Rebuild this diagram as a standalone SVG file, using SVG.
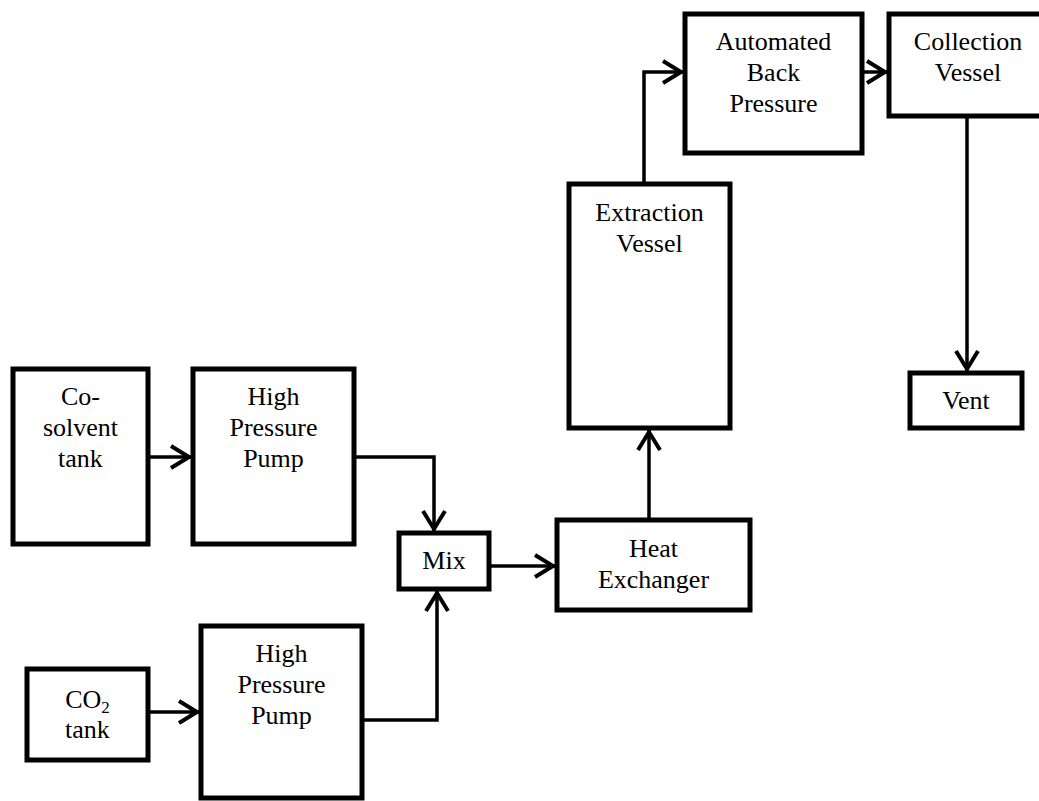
<svg xmlns="http://www.w3.org/2000/svg" width="1039" height="801" viewBox="0 0 1039 801">
<style>
.box{fill:#fff;stroke:#000;stroke-width:5}
.lbl{font-family:"Liberation Serif","Times New Roman",serif;font-size:26px;fill:#000;text-anchor:middle}
.con{fill:none;stroke:#000;stroke-width:3.5}
</style>
<defs>
<marker id="arr" markerUnits="userSpaceOnUse" markerWidth="26" markerHeight="28" viewBox="-24 -14 26 28" refX="0" refY="0" orient="auto">
<path d="M-20,-11 L-2,0 L-20,11" fill="none" stroke="#000" stroke-width="4"/>
</marker>
</defs>
<rect width="1039" height="801" fill="#fff"/>
<g id="cosolvent-tank"><rect class="box" x="13" y="369" width="135" height="175"/><text class="lbl" x="80.5" y="405">Co-</text><text class="lbl" x="80.5" y="436">solvent</text><text class="lbl" x="80.5" y="467">tank</text></g>
<g id="pump1"><rect class="box" x="193" y="369" width="161" height="175"/><text class="lbl" x="273.5" y="405">High</text><text class="lbl" x="273.5" y="436">Pressure</text><text class="lbl" x="273.5" y="467">Pump</text></g>
<g id="co2-tank"><rect class="box" x="27" y="669" width="121" height="91"/><text class="lbl" x="87.5" y="708">CO<tspan font-size="17" dy="5">2</tspan></text><text class="lbl" x="87.5" y="738">tank</text></g>
<g id="pump2"><rect class="box" x="201" y="626" width="161" height="172"/><text class="lbl" x="281.5" y="662">High</text><text class="lbl" x="281.5" y="693">Pressure</text><text class="lbl" x="281.5" y="724">Pump</text></g>
<g id="mix"><rect class="box" x="399" y="533" width="90" height="56"/><text class="lbl" x="444" y="569">Mix</text></g>
<g id="heat-exchanger"><rect class="box" x="557" y="520" width="193" height="90"/><text class="lbl" x="653.5" y="557">Heat</text><text class="lbl" x="653.5" y="588">Exchanger</text></g>
<g id="extraction-vessel"><rect class="box" x="569" y="184" width="161" height="244"/><text class="lbl" x="649.5" y="221">Extraction</text><text class="lbl" x="649.5" y="252">Vessel</text></g>
<g id="back-pressure"><rect class="box" x="685" y="14" width="177" height="139"/><text class="lbl" x="773.5" y="50">Automated</text><text class="lbl" x="773.5" y="81">Back</text><text class="lbl" x="773.5" y="112">Pressure</text></g>
<g id="collection-vessel"><rect class="box" x="889" y="14" width="158" height="102"/><text class="lbl" x="968" y="50">Collection</text><text class="lbl" x="968" y="81">Vessel</text></g>
<g id="vent"><rect class="box" x="910" y="373" width="112" height="55"/><text class="lbl" x="966" y="409">Vent</text></g>
<g id="connectors">
<path class="con" d="M150,457 H191" marker-end="url(#arr)"/>
<path class="con" d="M356,457 H434 V531" marker-end="url(#arr)"/>
<path class="con" d="M150,712 H199" marker-end="url(#arr)"/>
<path class="con" d="M364,720 H437 V591" marker-end="url(#arr)"/>
<path class="con" d="M491,566 H555" marker-end="url(#arr)"/>
<path class="con" d="M649,518 V430" marker-end="url(#arr)"/>
<path class="con" d="M644,182 V72 H683" marker-end="url(#arr)"/>
<path class="con" d="M864,72 H887" marker-end="url(#arr)"/>
<path class="con" d="M967,118 V371" marker-end="url(#arr)"/>
</g>
</svg>
